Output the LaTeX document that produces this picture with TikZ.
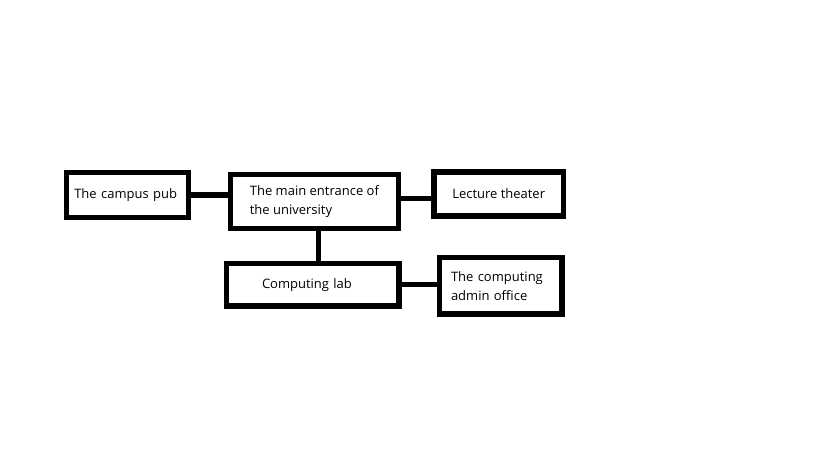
\documentclass[tikz,border=0pt]{standalone}
\usepackage{fontspec}
\setmainfont{Open Sans}
\begin{document}
\begin{tikzpicture}[x=1pt, y=-1pt,
	place/.style={draw, rectangle, line width=5.3pt, align=left, inner sep=0pt,
		font=\fontsize{13}{19}\selectfont},
	link/.style={line width=5.3pt}]
	
	% Canvas
	\useasboundingbox (0,0) rectangle (819,460);
	
	%% PLACES
	% Top row
	\node[place, minimum width=122pt, minimum height=44.6pt, text width=106pt] (pub) at (127.3,195) {The campus pub};
	\node[place, minimum width=168.2pt, minimum height=53.6pt] (main) at (314.4,201.5) {The main entrance of\\the university};
	\node[place, minimum width=129.3pt, minimum height=44pt] (lecture) at (498.7,194) {Lecture theater};
	% Bottom row
	\node[place, minimum width=172.5pt, minimum height=42.7pt, text width=101.6pt] (lab) at (312.8,284.7) {Computing lab};
	\node[place, minimum width=122.5pt, minimum height=56.5pt, text width=99.4pt] (admin) at (500.7,285.7) {The computing\\admin office};
	
	%% LINKS
	\draw[link] (pub) -- (pub -| main.west);
	\draw[link] ([yshift=3pt]main.east) -- ([yshift=3pt]main.east -| lecture.west);
	\draw[link] ([xshift=4.4pt]main.south) -- ([xshift=4.4pt]main.south |- lab.north);
	\draw[link] (lab) -- (lab -| admin.west);
	
\end{tikzpicture}
\end{document}
